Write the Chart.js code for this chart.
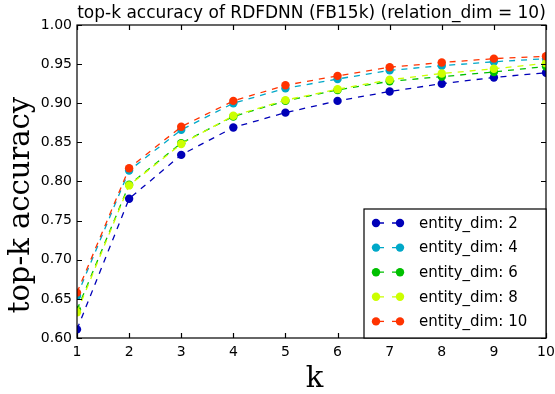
<!DOCTYPE html>
<html>
<head>
<meta charset="utf-8">
<script src="https://cdn.jsdelivr.net/npm/chart.js@4.4.1/dist/chart.umd.min.js"></script>
<style>
html,body{margin:0;padding:0;background:#fff;}
#wrap{width:555px;height:394px;position:relative;}
</style>
</head>
<body>
<div id="wrap"><canvas id="c" width="555" height="394"></canvas></div>
<script>
const kValues = [1,2,3,4,5,6,7,8,9,10];
const seriesLabels = ['entity_dim: 2','entity_dim: 4','entity_dim: 6','entity_dim: 8','entity_dim: 10'];
const dim2  = [0.611,0.778,0.834,0.869,0.888,0.903,0.915,0.925,0.933,0.939];
const dim4  = [0.654,0.814,0.866,0.900,0.919,0.931,0.942,0.948,0.953,0.957];
const dim6  = [0.636,0.796,0.849,0.883,0.903,0.917,0.928,0.934,0.940,0.947];
const dim8  = [0.633,0.795,0.848,0.884,0.904,0.918,0.930,0.938,0.944,0.951];
const dim10 = [0.658,0.817,0.870,0.903,0.923,0.935,0.946,0.952,0.957,0.960];
const seriesColors = ['#0000b8','#00a8c8','#00c000','#ccff00','#ff3300'];
const yTicks = [0.60,0.65,0.70,0.75,0.80,0.85,0.90,0.95,1.00];
const titleText = 'top-k accuracy of RDFDNN (FB15k) (relation_dim = 10)';
const xLabel = 'k';
const yLabel = 'top-k accuracy';

const allSeries = [dim2,dim4,dim6,dim8,dim10];

const datasets = allSeries.map((vals,i)=>({
  label: seriesLabels[i],
  data: kValues.map((k,j)=>({x:k,y:vals[j]})),
  borderColor: seriesColors[i],
  backgroundColor: seriesColors[i],
  pointBackgroundColor: seriesColors[i],
  pointBorderColor: seriesColors[i],
  pointBorderWidth: 0,
  pointRadius: 4.2,
  pointHoverRadius: 4.2,
  borderWidth: 1.3,
  borderDash: [6,6],
  tension: 0,
  fill: false,
  order: allSeries.length - i
}));

const framePlugin = {
  id: 'frame',
  afterDatasetsDraw(chart){
    const {ctx, chartArea:a, scales} = chart;
    ctx.save();
    ctx.strokeStyle = '#000';
    ctx.lineWidth = 1.2;
    ctx.beginPath();
    const tl = 5;
    scales.x.ticks.forEach(t=>{
      const px = Math.round(scales.x.getPixelForValue(t.value))+0.5;
      ctx.moveTo(px,a.bottom); ctx.lineTo(px,a.bottom-tl);
      ctx.moveTo(px,a.top); ctx.lineTo(px,a.top+tl);
    });
    scales.y.ticks.forEach(t=>{
      const py = Math.round(scales.y.getPixelForValue(t.value))+0.5;
      ctx.moveTo(a.left,py); ctx.lineTo(a.left+tl,py);
      ctx.moveTo(a.right,py); ctx.lineTo(a.right-tl,py);
    });
    ctx.stroke();
    ctx.strokeRect(a.left, a.top, a.right-a.left, a.bottom-a.top);
    // legend
    const w = 182, h = 129;
    const bx = a.right - w, by = a.bottom - h;
    ctx.fillStyle = '#fff';
    ctx.fillRect(bx,by,w,h);
    ctx.strokeRect(bx,by,w,h);
    ctx.font = '15px "DejaVu Sans"';
    ctx.textBaseline = 'middle';
    ctx.textAlign = 'left';
    chart.data.datasets.forEach((ds,i)=>{
      const cy = by + 14 + i*24.6;
      const x1 = bx + 12, x2 = bx + 36;
      ctx.strokeStyle = ds.borderColor;
      ctx.lineWidth = 1.3;
      ctx.setLineDash([8,8]);
      ctx.beginPath(); ctx.moveTo(x1,cy); ctx.lineTo(x2,cy); ctx.stroke();
      ctx.setLineDash([]);
      ctx.fillStyle = ds.borderColor;
      [x1,x2].forEach(x=>{ctx.beginPath(); ctx.arc(x,cy,4.2,0,Math.PI*2); ctx.fill();});
      ctx.fillStyle = '#000';
      ctx.fillText(ds.label, bx + 55, cy+1);
    });
    // title & axis labels
    const cx = (a.left + a.right)/2;
    ctx.fillStyle = '#000';
    ctx.textAlign = 'center';
    ctx.textBaseline = 'alphabetic';
    ctx.font = '17px "DejaVu Sans"';
    ctx.fillText(titleText, cx, 18);
    ctx.font = '29px "DejaVu Serif"';
    ctx.fillText(xLabel, cx + 3, 387);
    ctx.save();
    ctx.translate(29, 205);
    ctx.rotate(-Math.PI/2);
    ctx.fillText(yLabel, 0, 0);
    ctx.restore();
    ctx.restore();
  }
};

new Chart(document.getElementById('c'), {
  type: 'line',
  data: { datasets },
  options: {
    responsive: false,
    animation: false,
    layout: { padding: { left: 0, right: 9, top: 25, bottom: 0 } },
    plugins: {
      legend: { display: false },
      tooltip: { enabled: false },
      title: { display: false }
    },
    scales: {
      x: {
        type: 'linear',
        min: 1, max: 10,
        afterFit(s){ s.height = 56; s.paddingLeft = 0; s.paddingRight = 0; },
        afterBuildTicks(s){ s.ticks = kValues.map(v=>({value:v})); },
        grid: { display: false, drawTicks: false },
        border: { display: false },
        ticks: { color: '#000', font: { family: 'DejaVu Sans', size: 14 }, padding: 6, maxRotation: 0,
                 callback: v => String(v) },
        title: { display: false }
      },
      y: {
        type: 'linear',
        min: 0.6, max: 1.0,
        afterFit(s){ s.width = 77; s.paddingTop = 0; s.paddingBottom = 0; },
        afterBuildTicks(s){ s.ticks = yTicks.map(v=>({value:v})); },
        grid: { display: false, drawTicks: false },
        border: { display: false },
        ticks: { color: '#000', font: { family: 'DejaVu Sans', size: 14 }, padding: 5,
                 callback: v => Number(v).toFixed(2) },
        title: { display: false }
      }
    }
  },
  plugins: [framePlugin]
});
</script>
</body>
</html>
